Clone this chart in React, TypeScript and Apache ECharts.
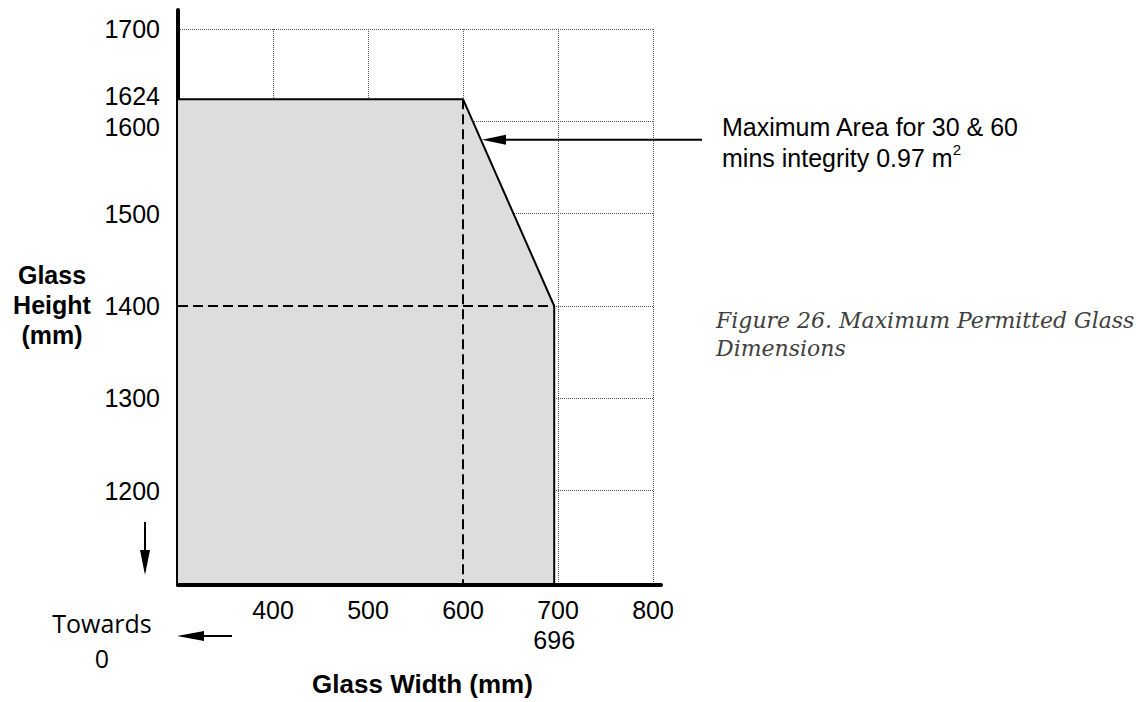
import React, { useEffect, useRef } from "react";
import * as echarts from "echarts";

// Boundary of the permitted glass area (width mm, height mm)
const boundaryWidth = [300, 600, 696, 696];
const boundaryHeight = [1624, 1624, 1400, 1100];

// Dashed reference lines
const refVertical = { x: 600, yFrom: 1624, yTo: 1100 };
const refHorizontal = { y: 1400, xFrom: 300, xTo: 696 };

// Axis ranges and tick labels
const xMin = 300;
const xMax = 800;
const yMin = 1100;
const yMax = 1700;
const xTickLabels = [400, 500, 600, 696, 700, 800];
const yTickLabels = [1200, 1300, 1400, 1500, 1600, 1624, 1700];

// Annotation anchor height on the sloped edge
const annotationHeight = 1580;

const SANS = "'Liberation Sans', Arial, sans-serif";

export default function App() {
  const ref = useRef<HTMLDivElement>(null);

  useEffect(() => {
    if (!ref.current) return;
    const chart = echarts.init(ref.current, null, { renderer: "svg" });

    const boundary = boundaryWidth.map((w, i) => [w, boundaryHeight[i]]);
    const gridLine = { color: "#555", width: 1, type: [1, 1] };

    const option: any = {
      animation: false,
      backgroundColor: "#ffffff",
      grid: [
        { left: 178, top: 29, width: 475, height: 556 },
        { left: 178, top: 10, width: 483, height: 575 },
      ],
      xAxis: [
        {
          type: "value",
          gridIndex: 0,
          min: xMin,
          max: xMax,
          interval: 100,
          axisLine: { show: false },
          axisTick: { show: false },
          splitLine: { show: true, lineStyle: gridLine },
          axisLabel: {
            customValues: xTickLabels,
            margin: 14,
            fontFamily: SANS,
            fontSize: 25,
            color: "#000",
            formatter: (v: number) =>
              v === 696 ? "{low|" + String(v) + "}" : "{n|" + String(v) + "}",
            rich: {
              n: { fontFamily: SANS, fontSize: 25, color: "#000" },
              low: {
                fontFamily: SANS,
                fontSize: 25,
                color: "#000",
                padding: [30, 0, 0, 0],
              },
            },
          },
          name: "Glass Width (mm)",
          nameLocation: "middle",
          nameGap: 88,
          nameTextStyle: {
            fontFamily: SANS,
            fontSize: 26,
            fontWeight: "bold",
            color: "#000",
            padding: [0, 0, 0, 14],
          },
        },
        {
          type: "value",
          gridIndex: 1,
          min: 0,
          max: 1,
          axisLine: { show: true, lineStyle: { color: "#000", width: 4 } },
          axisTick: { show: false },
          axisLabel: { show: false },
          splitLine: { show: false },
        },
      ],
      yAxis: [
        {
          type: "value",
          gridIndex: 0,
          min: yMin,
          max: yMax,
          interval: 100,
          axisLine: { show: false },
          axisTick: { show: false },
          splitLine: { show: true, lineStyle: gridLine },
          axisLabel: {
            customValues: yTickLabels,
            margin: 18,
            fontFamily: SANS,
            fontSize: 25,
            color: "#000",
            formatter: (v: number) => {
              if (v === 1624) return "{up|" + String(v) + "}";
              if (v === 1600) return "{down|" + String(v) + "}";
              return "{n|" + String(v) + "}";
            },
            rich: {
              n: { fontFamily: SANS, fontSize: 25, color: "#000" },
              up: {
                fontFamily: SANS,
                fontSize: 25,
                color: "#000",
                padding: [0, 0, 6, 0],
              },
              down: {
                fontFamily: SANS,
                fontSize: 25,
                color: "#000",
                padding: [12, 0, 0, 0],
              },
            },
          },
        },
        {
          type: "value",
          gridIndex: 1,
          min: 0,
          max: 1,
          axisLine: { show: true, lineStyle: { color: "#000", width: 4 } },
          axisTick: { show: false },
          axisLabel: { show: false },
          splitLine: { show: false },
        },
      ],
      series: [
        {
          name: "Maximum permitted area",
          type: "line",
          xAxisIndex: 0,
          yAxisIndex: 0,
          data: boundary,
          symbol: "none",
          lineStyle: { color: "#000", width: 2 },
          areaStyle: { color: "#dddddd", opacity: 1, origin: "start" },
          z: 2,
        },
        {
          name: "Ref horizontal",
          type: "line",
          xAxisIndex: 0,
          yAxisIndex: 0,
          data: [
            [refHorizontal.xFrom, refHorizontal.y],
            [refHorizontal.xTo, refHorizontal.y],
          ],
          symbol: "none",
          lineStyle: { color: "#000", width: 2, type: [10, 5] },
          z: 3,
        },
        {
          name: "Ref vertical",
          type: "line",
          xAxisIndex: 0,
          yAxisIndex: 0,
          data: [
            [refVertical.x, refVertical.yFrom],
            [refVertical.x, refVertical.yTo],
          ],
          symbol: "none",
          lineStyle: { color: "#000", width: 2, type: [10, 5] },
          z: 3,
        },
      ],
    };

    chart.setOption(option);

    // Anchor of annotation arrow on the sloped edge
    const x0 = boundaryWidth[1];
    const y0 = boundaryHeight[1];
    const x1 = boundaryWidth[2];
    const y1 = boundaryHeight[2];
    const ax = x0 + ((y0 - annotationHeight) * (x1 - x0)) / (y0 - y1);
    const tip = chart.convertToPixel({ gridIndex: 0 } as any, [
      ax,
      annotationHeight,
    ]) as number[];
    const tx = tip[0] + 1;
    const ty = tip[1];

    const black = { stroke: "#000", lineWidth: 2 };

    chart.setOption({
      graphic: [
        // annotation arrow
        {
          type: "line",
          shape: { x1: tx + 20, y1: ty, x2: 702, y2: ty },
          style: black,
          z: 10,
        },
        {
          type: "polygon",
          shape: {
            points: [
              [tx, ty],
              [tx + 24, ty - 5],
              [tx + 24, ty + 5],
            ],
          },
          style: { fill: "#000" },
          z: 10,
        },
        {
          type: "text",
          x: 722,
          y: 142,
          style: {
            text: "Maximum Area for 30 & 60\nmins integrity 0.97 m{sup|2}",
            fontFamily: SANS,
            fontSize: 25,
            lineHeight: 31,
            fill: "#000",
            align: "left",
            verticalAlign: "middle",
            rich: {
              sup: {
                fontFamily: SANS,
                fontSize: 15,
                fill: "#000",
                verticalAlign: "top",
                lineHeight: 31,
              },
            },
          },
          z: 10,
        },
        // y axis name
        {
          type: "text",
          x: 52,
          y: 305,
          style: {
            text: "Glass\nHeight\n(mm)",
            fontFamily: SANS,
            fontSize: 25,
            fontWeight: "bold",
            lineHeight: 30,
            fill: "#000",
            align: "center",
            verticalAlign: "middle",
          },
        },
        // down arrow
        {
          type: "line",
          shape: { x1: 145, y1: 522, x2: 145, y2: 552 },
          style: black,
        },
        {
          type: "polygon",
          shape: {
            points: [
              [145, 575],
              [140, 550],
              [150, 550],
            ],
          },
          style: { fill: "#000" },
        },
        // towards 0
        {
          type: "text",
          x: 102,
          y: 640,
          style: {
            text: "Towards\n0",
            fontFamily: "'Open Sans', sans-serif",
            fontSize: 25,
            lineHeight: 35,
            fill: "#000",
            align: "center",
            verticalAlign: "middle",
          },
        },
        {
          type: "line",
          shape: { x1: 200, y1: 636, x2: 232, y2: 636 },
          style: black,
        },
        {
          type: "polygon",
          shape: {
            points: [
              [177, 636],
              [204, 631],
              [204, 641],
            ],
          },
          style: { fill: "#000" },
        },
        // caption
        {
          type: "text",
          x: 716,
          y: 334,
          style: {
            text: "Figure 26. Maximum Permitted Glass\nDimensions",
            fontFamily: "'DejaVu Serif', serif",
            fontStyle: "italic",
            fontSize: 22,
            lineHeight: 28,
            fill: "#404040",
            align: "left",
            verticalAlign: "middle",
          },
        },
      ],
    });

    return () => chart.dispose();
  }, []);

  return (
    <div
      ref={ref}
      style={{
        position: "fixed",
        left: 0,
        top: 0,
        width: 1140,
        height: 702,
        background: "#fff",
      }}
    />
  );
}
